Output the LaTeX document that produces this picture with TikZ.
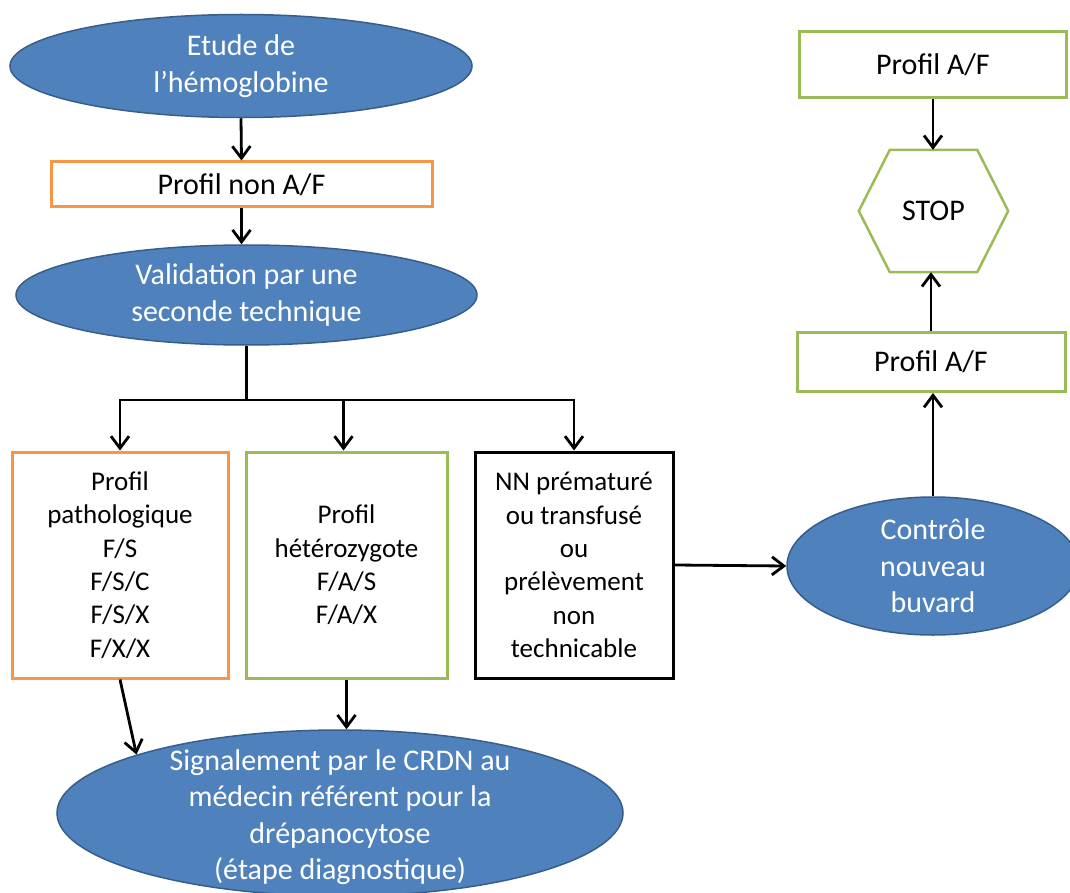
\documentclass[tikz,border=0pt]{standalone}
\usepackage{fontspec}
\setmainfont{Carlito}
\usepackage{tikz}
\usetikzlibrary{arrows.meta, positioning, shapes.geometric}
\definecolor{azul}{HTML}{4F81BD}
\definecolor{azuloscuro}{HTML}{385D8A}
\definecolor{naranja}{HTML}{F79646}
\definecolor{verde}{HTML}{9BBB59}
\tikzset{
  every picture/.style={x=1pt, y=-1pt},
  elip/.style={ellipse, draw=azuloscuro, fill=azul, line width=1.5pt, inner sep=0pt},
  txtelip/.style={text=white, align=center, inner sep=0pt, font=\fontsize{30pt}{36.5pt}\selectfont},
  caja/.style={rectangle, fill=white, line width=3pt, inner sep=2pt, align=center,
               font=\fontsize{27pt}{33.4pt}\selectfont},
  cajan/.style={caja, draw=naranja},
  cajav/.style={caja, draw=verde},
  cajak/.style={caja, draw=black},
  grande/.style={font=\fontsize{30pt}{36pt}\selectfont},
  flecha/.style={-{Straight Barb[length=12pt, width=18pt]}, line width=2.8pt, black},
  linea/.style={line width=2.8pt, black},
}
\begin{document}
\begin{tikzpicture}
  \useasboundingbox (0,0) rectangle (1070,893);
  % colonne de gauche
  \node[elip, minimum width=462pt, minimum height=103pt] (etude) at (241,66) {};
  \node[txtelip] (etude-t) at (etude) {Etude de\\l’hémoglobine};
  \node[cajan, grande, minimum width=381pt, minimum height=45pt] (nonaf) at (241.5,184.5) {Profil non A/F};
  \node[elip, minimum width=461pt, minimum height=100pt] (valid) at (246.5,295) {};
  \node[txtelip] (valid-t) at (valid) {Validation par une\\seconde technique};
  \coordinate (rama) at (246.5,400);
  \node[cajan, minimum width=216pt, minimum height=226pt] (patol) at (120,565)
    {Profil\\pathologique\\F/S\\F/S/C\\F/S/X\\F/X/X};
  \node[cajav, minimum width=201pt, minimum height=226pt] (hetero) at (346.5,565)
    {Profil\\hétérozygote\\F/A/S\\F/A/X};
  \node[cajak, minimum width=198pt, minimum height=226pt] (nn) at (574,565)
    {NN prématuré\\ou transfusé\\ou\\prélèvement\\non\\technicable};
  \node[elip, minimum width=566pt, minimum height=166pt] (signal) at (340,813) {};
  \node[txtelip] (signal-t) at (340,817)
    {Signalement par le CRDN au\\médecin référent pour la\\drépanocytose\\(étape diagnostique)};
  % colonne de droite
  \node[cajav, grande, minimum width=267pt, minimum height=66pt] (afhaut) at (933,65) {Profil A/F};
  \node[grande, minimum width=149pt, minimum height=122pt, inner sep=0pt] (stop) at (933.5,211) {STOP};
  \draw[verde, line width=2.5pt] (stop.west) -- ([xshift=31pt]stop.north west) -- ([xshift=-31pt]stop.north east)
    -- (stop.east) -- ([xshift=-31pt]stop.south east) -- ([xshift=31pt]stop.south west) -- cycle;
  \node[cajav, grande, minimum width=268pt, minimum height=59pt] (afmilieu) at (931,362) {Profil A/F};
  \node[elip, minimum width=292pt, minimum height=138pt] (controle) at (933,566) {};
  \node[txtelip] (controle-t) at (controle) {Contrôle\\nouveau\\buvard};
  % connecteurs
  \draw[flecha] (etude.south) -- (nonaf.north);
  \draw[flecha] (nonaf.south) -- (nonaf.south |- valid.north);
  \draw[linea] (valid.south) -- (rama);
  \draw[flecha] (rama) -| (patol.north);
  \draw[flecha] (rama) -| ([xshift=-3pt]hetero.north);
  \draw[flecha] (rama) -| (nn.north);
  \draw[flecha] (patol.south) -- (signal.164);
  \draw[flecha] (hetero.south) -- (hetero.south |- signal.north);
  \draw[flecha] (nn.east) -- (controle.west);
  \draw[flecha] (controle.north) -- (controle.north |- afmilieu.south);
  \draw[flecha] (afmilieu.north) -- (afmilieu.north |- stop.south);
  \draw[flecha] (afhaut.south) -- (afhaut.south |- stop.north);
\end{tikzpicture}
\end{document}
